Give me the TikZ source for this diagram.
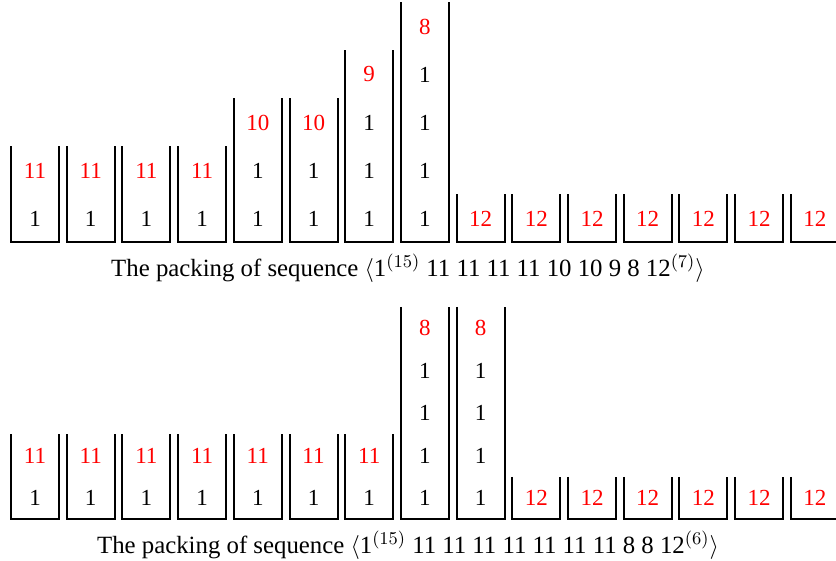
\documentclass[tikz,border=0pt]{standalone}
\usepackage{fontspec}
\setmainfont{Liberation Serif}
\usetikzlibrary{positioning}
\definecolor{bigitem}{RGB}{255,0,0}

% one bin: index, bottom, cell height, number of 1s, last item, name
\newcommand{\packbin}[6]{%
  \pgfmathsetmacro{\bx}{11+55.7*(#1-1)}
  \pgfmathsetmacro{\bh}{#3*(#4+1)}
  \draw[bin] (\bx,#2+\bh) -- (\bx,#2) -- (\bx+48,#2) -- (\bx+48,#2+\bh);
  \ifnum#4>0
    \foreach \k in {1,...,#4}
      \node[unit] (#6-\k) at (\bx+24,#2+#3*\k-#3/2) {1};
  \fi
  \node[big] (#6) at (\bx+24,#2+#3*#4+#3/2) {#5};
}

\begin{document}
\begin{tikzpicture}[x=0.5pt,y=0.5pt,
    bin/.style={line width=1pt,black},
    unit/.style={font=\fontsize{11.5}{13}\selectfont,black},
    big/.style={font=\fontsize{11.5}{13}\selectfont,bigitem},
    caption/.style={font=\fontsize{12.4}{14}\selectfont,black}]
  \useasboundingbox (0,0) rectangle (836,561);
  % first packing
  \foreach \b/\n/\v in {1/1/11,2/1/11,3/1/11,4/1/11,5/2/10,6/2/10,7/3/9,8/4/8,
      9/0/12,10/0/12,11/0/12,12/0/12,13/0/12,14/0/12,15/0/12}
    \packbin{\b}{318.5}{48}{\n}{\v}{a\b};
  \node[caption] (capa) at (408,293)
    {The packing of sequence $\langle$1$^{(15)}$ 11 11 11 11 10 10 9 8 12$^{(7)}\rangle$};
  % second packing
  \foreach \b/\n/\v in {1/1/11,2/1/11,3/1/11,4/1/11,5/1/11,6/1/11,7/1/11,8/4/8,9/4/8,
      10/0/12,11/0/12,12/0/12,13/0/12,14/0/12,15/0/12}
    \packbin{\b}{41.5}{42.5}{\n}{\v}{b\b};
  \node[caption] (capb) at (408,16)
    {The packing of sequence $\langle$1$^{(15)}$ 11 11 11 11 11 11 11 8 8 12$^{(6)}\rangle$};
\end{tikzpicture}
\end{document}
